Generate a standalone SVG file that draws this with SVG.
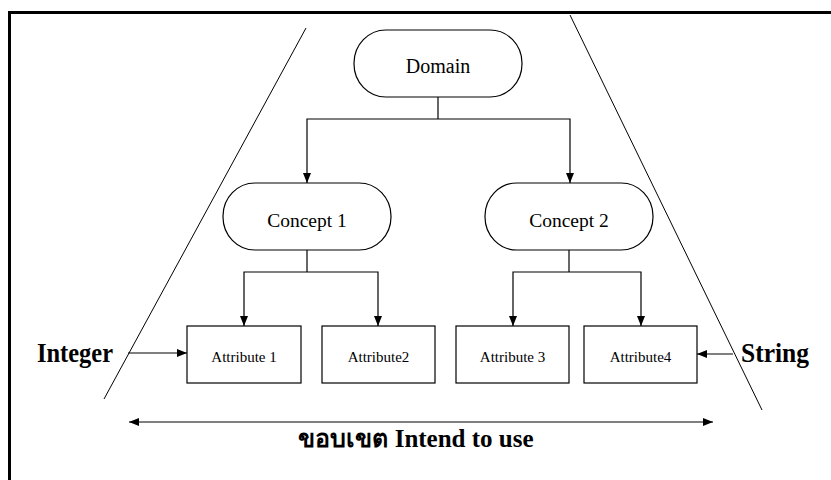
<svg xmlns="http://www.w3.org/2000/svg" width="831" height="480" viewBox="0 0 831 480">
  <defs>
    <marker id="arrow" markerUnits="userSpaceOnUse" markerWidth="10" markerHeight="8" refX="10" refY="4" orient="auto-start-reverse">
      <path d="M0,0 L10,4 L0,8 Z" fill="#000"/>
    </marker>
  </defs>
  <style>
    .frame { fill: #fff; stroke: #000; stroke-width: 3; }
    .guide { fill: none; stroke: #000; stroke-width: 1; }
    .node { fill: #fff; stroke: #000; stroke-width: 1.2; }
    .edge { fill: none; stroke: #000; stroke-width: 1.2; }
    .label { font-family: "Liberation Serif", "Times New Roman", serif; fill: #000; text-anchor: middle; }
    .big { font-family: "Liberation Serif", "DejaVu Serif", "Noto Sans", serif; font-weight: bold; fill: #000; }
  </style>

  <!-- outer frame (continues past the right and bottom edges) -->
  <rect class="frame" x="9.5" y="12.5" width="860" height="500"/>

  <!-- slanted boundary lines -->
  <g id="boundaries">
    <line class="guide" x1="306" y1="28" x2="104" y2="399"/>
    <line class="guide" x1="570" y1="15" x2="762" y2="410"/>
  </g>

  <!-- connectors -->
  <g id="connectors">
    <path class="edge" d="M438,97 V119"/>
    <path class="edge" d="M438,119 H307 V183" marker-end="url(#arrow)"/>
    <path class="edge" d="M438,119 H570 V183" marker-end="url(#arrow)"/>
    <path class="edge" d="M307,250 V272"/>
    <path class="edge" d="M307,272 H244 V326" marker-end="url(#arrow)"/>
    <path class="edge" d="M307,272 H378 V326" marker-end="url(#arrow)"/>
    <path class="edge" d="M569,250 V272"/>
    <path class="edge" d="M569,272 H513 V326" marker-end="url(#arrow)"/>
    <path class="edge" d="M569,272 H641 V326" marker-end="url(#arrow)"/>
    <path class="edge" d="M128,353 H187" marker-end="url(#arrow)"/>
    <path class="edge" d="M733,354 H697" marker-end="url(#arrow)"/>
    <path class="edge" d="M129,422 H713" stroke="#222" stroke-width="2" marker-start="url(#arrow)" marker-end="url(#arrow)"/>
  </g>

  <!-- nodes -->
  <g id="domain">
    <rect class="node" x="354" y="30" width="168" height="67" rx="32" ry="33"/>
    <text class="label" x="438" y="73" font-size="20">Domain</text>
  </g>
  <g id="concept1">
    <rect class="node" x="223" y="183" width="168" height="67" rx="32" ry="33"/>
    <text class="label" x="307" y="227" font-size="19.5">Concept 1</text>
  </g>
  <g id="concept2">
    <rect class="node" x="485" y="183" width="168" height="67" rx="32" ry="33"/>
    <text class="label" x="569" y="227" font-size="19.5">Concept 2</text>
  </g>
  <g id="attribute1">
    <rect class="node" x="187" y="326" width="114" height="57"/>
    <text class="label" x="244" y="362" font-size="15">Attribute 1</text>
  </g>
  <g id="attribute2">
    <rect class="node" x="322" y="326" width="113" height="57"/>
    <text class="label" x="378.5" y="362" font-size="15">Attribute2</text>
  </g>
  <g id="attribute3">
    <rect class="node" x="456" y="326" width="113" height="57"/>
    <text class="label" x="512.5" y="362" font-size="15">Attribute 3</text>
  </g>
  <g id="attribute4">
    <rect class="node" x="584" y="326" width="113" height="57"/>
    <text class="label" x="640.5" y="362" font-size="15">Attribute4</text>
  </g>

  <!-- side and bottom labels -->
  <g id="integer">
    <text class="big" x="37" y="362" font-size="27" textLength="76" lengthAdjust="spacingAndGlyphs">Integer</text>
  </g>
  <g id="string">
    <text class="big" x="741" y="362" font-size="27" textLength="68" lengthAdjust="spacingAndGlyphs">String</text>
  </g>
  <g id="scope">
    <text class="big" x="416" y="447" font-size="25" text-anchor="middle">ขอบเขต Intend to use</text>
  </g>
</svg>
